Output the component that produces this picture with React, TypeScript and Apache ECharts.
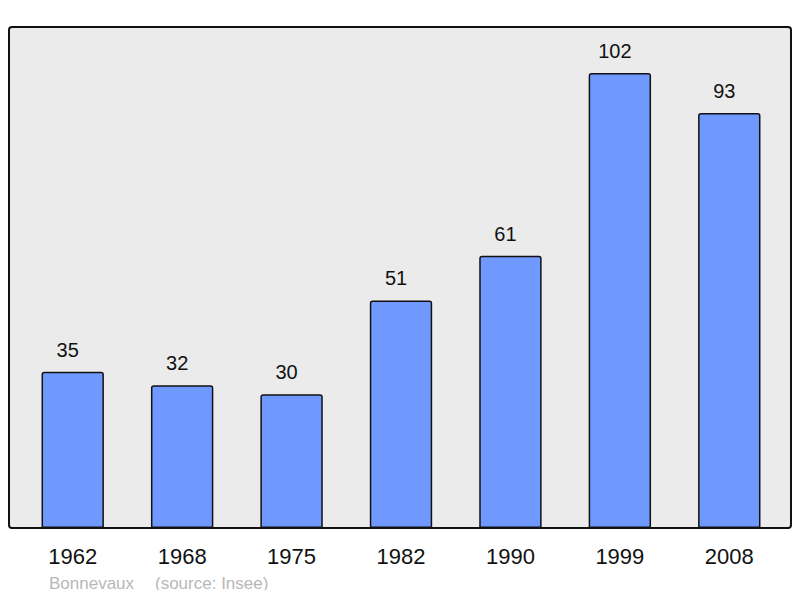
import { useEffect, useRef } from 'react';
import * as echarts from 'echarts';

const years = ['1962', '1968', '1975', '1982', '1990', '1999', '2008'];
const population = [35, 32, 30, 51, 61, 102, 93];
const townName = 'Bonnevaux';
const sourceNote = '(source: Insee)';

export default function App() {
  const chartRef = useRef<HTMLDivElement | null>(null);

  useEffect(() => {
    const element = chartRef.current;
    if (!element) {
      return;
    }

    const chart = echarts.init(element, null, { renderer: 'svg' });
    chart.setOption({
      animation: false,
      textStyle: { fontFamily: 'Liberation Sans, Arial, sans-serif' },
      grid: { left: 18, right: 16, top: 27, bottom: 70 },
      graphic: [
        {
          type: 'rect',
          z: -10,
          silent: true,
          shape: { x: 9, y: 27, width: 782, height: 501, r: 3 },
          style: { fill: '#ebebeb', stroke: '#111', lineWidth: 2 },
        },
        {
          type: 'text',
          left: 49,
          top: 575,
          style: { text: townName, fill: '#b8b8b8', fontSize: 17, fontFamily: 'Liberation Sans, Arial, sans-serif' },
        },
        {
          type: 'text',
          left: 155,
          top: 575,
          style: { text: sourceNote, fill: '#b8b8b8', fontSize: 17, fontFamily: 'Liberation Sans, Arial, sans-serif' },
        },
      ],
      xAxis: {
        type: 'category',
        data: years,
        axisTick: { show: false },
        axisLine: { show: false },
        axisLabel: { color: '#111', fontSize: 22, margin: 17 },
      },
      yAxis: {
        type: 'value',
        min: 0,
        max: 112.3,
        show: false,
        splitLine: { show: false },
      },
      series: [
        {
          type: 'bar',
          data: population,
          barWidth: '57%',
          itemStyle: {
            color: '#7099ff',
            borderColor: '#111',
            borderWidth: 1.5,
            borderRadius: [2, 2, 0, 0],
          },
          label: {
            show: true,
            position: 'top',
            distance: 12,
            offset: [-5, 0],
            color: '#111',
            fontSize: 20,
          },
        },
      ],
    });

    return () => {
      chart.dispose();
    };
  }, []);

  return <div ref={chartRef} style={{ width: 800, height: 598, margin: -8 }} />;
}
